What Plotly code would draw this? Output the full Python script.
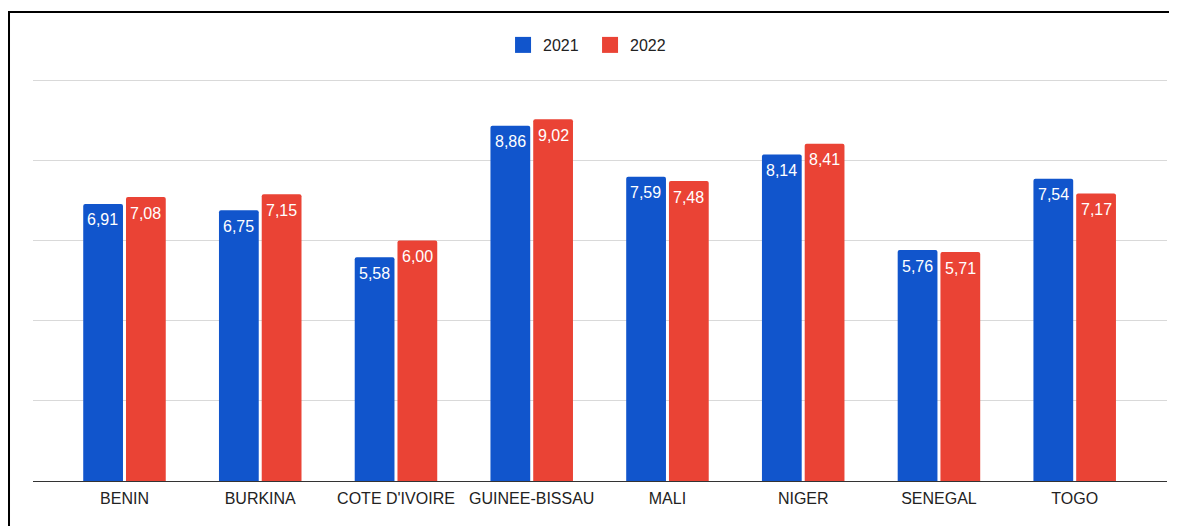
import plotly.graph_objects as go

countries = ["BENIN", "BURKINA", "COTE D'IVOIRE", "GUINEE-BISSAU", "MALI", "NIGER", "SENEGAL", "TOGO"]
values_2021 = [6.91, 6.75, 5.58, 8.86, 7.59, 8.14, 5.76, 7.54]
values_2022 = [7.08, 7.15, 6.00, 9.02, 7.48, 8.41, 5.71, 7.17]
series_names = ["2021", "2022"]
colors = ["#1155CC", "#EA4335"]

FONT = "Arial"

fig = go.Figure()
for name, vals, col in zip(series_names, [values_2021, values_2022], colors):
    fig.add_trace(go.Bar(
        x=countries, y=vals, name=name, showlegend=False,
        marker=dict(color=col, line=dict(width=0)),
        hoverinfo="x+y",
    ))
# legend entries with larger square swatches
for name, col in zip(series_names, colors):
    fig.add_trace(go.Scatter(
        x=[None], y=[None], mode="markers", name=name,
        marker=dict(symbol="square", size=16, color=col),
    ))

# value labels inside the top of each bar
annotations = []
for vals, shift in [(values_2021, -21.5), (values_2022, 21.5)]:
    for c, v in zip(countries, vals):
        annotations.append(dict(
            x=c, y=v, xref="x", yref="y", text=f"{v:.2f}".replace(".", ","),
            showarrow=False, xshift=shift, yshift=-16, yanchor="middle", xanchor="center",
            font=dict(color="white", size=16, family=FONT),
        ))

fig.update_layout(
    width=1169, height=518,
    margin=dict(l=25, r=10, t=70, b=45),
    paper_bgcolor="white", plot_bgcolor="white",
    barmode="group", bargap=0.37, bargroupgap=0.07, barcornerradius=2,
    separators=", ",
    font=dict(family=FONT, size=16, color="#222222"),
    legend=dict(orientation="h", x=0.4145, xanchor="left", y=1.0 + (70 - 37) / 403.0, yanchor="middle",
                font=dict(size=16, color="#222222"), entrywidth=42, entrywidthmode="pixels"),
    xaxis=dict(range=[-0.674, 7.68], showgrid=False, showline=True, linecolor="#333333",
               linewidth=1, ticks="", ticklabelstandoff=3, tickfont=dict(size=16, color="#222222")),
    yaxis=dict(range=[0, 10.05], tickvals=[0, 2, 4, 6, 8, 10], showgrid=True, gridcolor="#d9d9d9", gridwidth=1,
               showticklabels=False, zeroline=False, showline=False),
    annotations=annotations,
    shapes=[dict(type="rect", xref="paper", yref="paper", x0=-0.02116, x1=1.2, y0=-0.3, y1=1.1638,
                 line=dict(color="black", width=2), fillcolor="rgba(0,0,0,0)", layer="above")],
)

fig.write_html("out.html")
